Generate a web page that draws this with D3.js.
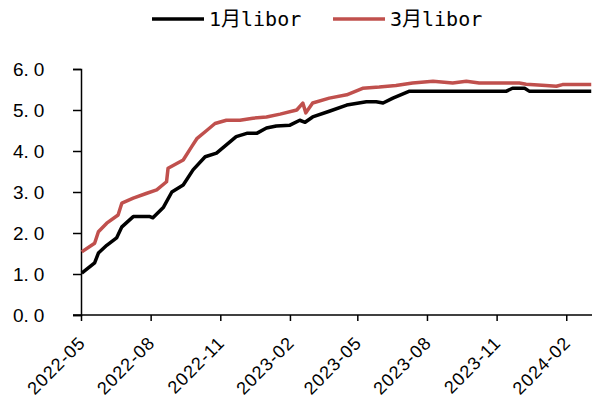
<!DOCTYPE html>
<html>
<head>
<meta charset="utf-8">
<script src="https://cdn.jsdelivr.net/npm/d3@7"></script>
<style>
  body { margin: 0; background: #fff; }
  text { font-family: "Liberation Sans", Arial, "Noto Sans CJK SC", sans-serif; fill: #000; }
  .mono { font-family: "DejaVu Sans Mono", "Noto Sans CJK SC", monospace; }
</style>
</head>
<body>
<div id="chart"></div>
<script>
const seriesNames = ["1月libor", "3月libor"];
const seriesColors = ["#000000", "#C0504D"];

const datesM1 = ["2022-05-02","2022-05-19","2022-05-24","2022-06-04","2022-06-17","2022-06-24","2022-07-09","2022-07-31","2022-08-04","2022-08-18","2022-08-29","2022-09-13","2022-09-26","2022-10-12","2022-10-27","2022-11-09","2022-11-22","2022-12-06","2022-12-19","2023-01-01","2023-01-14","2023-02-01","2023-02-14","2023-02-21","2023-03-03","2023-03-25","2023-04-17","2023-05-13","2023-05-26","2023-06-04","2023-06-17","2023-07-09","2023-11-14","2023-11-22","2023-12-08","2023-12-14","2024-03-05"];
const valuesM1 = [1.02,1.27,1.51,1.70,1.88,2.15,2.40,2.40,2.37,2.63,3.00,3.17,3.54,3.86,3.95,4.15,4.35,4.43,4.43,4.56,4.61,4.63,4.75,4.70,4.83,4.97,5.12,5.20,5.20,5.17,5.29,5.46,5.46,5.53,5.53,5.46,5.46];

const datesM3 = ["2022-05-02","2022-05-19","2022-05-24","2022-06-04","2022-06-19","2022-06-24","2022-07-09","2022-07-27","2022-08-09","2022-08-22","2022-08-24","2022-09-13","2022-09-24","2022-10-01","2022-10-14","2022-10-25","2022-11-09","2022-11-27","2022-12-14","2023-01-01","2023-01-19","2023-02-10","2023-02-18","2023-02-22","2023-03-03","2023-03-25","2023-04-17","2023-05-08","2023-05-30","2023-06-21","2023-07-13","2023-08-09","2023-09-04","2023-09-22","2023-10-09","2023-12-01","2023-12-10","2024-01-05","2024-01-19","2024-01-27","2024-03-05"];
const valuesM3 = [1.54,1.75,2.03,2.24,2.44,2.73,2.85,2.97,3.05,3.25,3.58,3.78,4.10,4.30,4.50,4.67,4.75,4.75,4.80,4.83,4.90,5.00,5.17,4.93,5.17,5.29,5.37,5.53,5.56,5.60,5.66,5.70,5.66,5.70,5.66,5.66,5.63,5.60,5.58,5.62,5.62];

const xTicks = ["2022-05","2022-08","2022-11","2023-02","2023-05","2023-08","2023-11","2024-02"];
const yTicks = [0, 1, 2, 3, 4, 5, 6];

const width = 597, height = 405;
const parse = d3.timeParse("%Y-%m-%d");
const parseM = d3.timeParse("%Y-%m");

const svg = d3.select("#chart").append("svg")
    .attr("width", width).attr("height", height);

const x = d3.scaleTime()
    .domain([parse("2022-05-01"), parse("2024-03-06")])
    .range([81, 592]);
const y = d3.scaleLinear().domain([0, 6]).range([315, 69]);

// y axis
const yAxis = svg.append("g")
    .attr("transform", "translate(81,0)")
    .call(d3.axisLeft(y).tickValues(yTicks).tickSize(8).tickFormat(d3.format(".1f")));
yAxis.select(".domain").attr("stroke", "#000").attr("stroke-width", 1.5);
yAxis.selectAll(".tick line").attr("stroke", "#000").attr("stroke-width", 1.5);
yAxis.selectAll(".tick text")
    .attr("x", -68).attr("text-anchor", "start").attr("font-size", 19)
    .each(function(d) {
      const parts = d3.format(".1f")(d).split(".");
      const t = d3.select(this).text(null);
      t.append("tspan").text(parts[0] + ".");
      t.append("tspan").attr("dx", 5).text(parts[1]);
    });

// x axis
const xAxis = svg.append("g")
    .attr("transform", "translate(0,315)")
    .call(d3.axisBottom(x).tickValues(xTicks.map(parseM)).tickSize(6).tickFormat(d3.timeFormat("%Y-%m")));
xAxis.select(".domain").attr("stroke", "#000").attr("stroke-width", 1.5).attr("d", "M73,0H592");
xAxis.selectAll(".tick line").attr("stroke", "#000").attr("stroke-width", 1.5);
xAxis.selectAll(".tick text")
    .attr("font-size", 18)
    .attr("letter-spacing", 1)
    .attr("text-anchor", "end")
    .attr("y", 0).attr("dy", 0)
    .attr("transform", "translate(5,29) rotate(-45)");

// lines
const series = [
  { dates: datesM1, values: valuesM1 },
  { dates: datesM3, values: valuesM3 }
];
const line = d3.line().x(d => x(d[0])).y(d => y(d[1]));
series.forEach((s, i) => {
  const pts = s.dates.map((d, j) => [parse(d), s.values[j]]);
  svg.append("path")
    .datum(pts)
    .attr("fill", "none")
    .attr("stroke", seriesColors[i])
    .attr("stroke-width", 3.5)
    .attr("stroke-linejoin", "round")
    .attr("d", line);
});

// legend
const legendX = [152, 333];
seriesNames.forEach((name, i) => {
  const g = svg.append("g").attr("transform", `translate(${legendX[i]},19)`);
  g.append("line").attr("x1", 0).attr("x2", 52).attr("y1", 0).attr("y2", 0)
    .attr("stroke", seriesColors[i]).attr("stroke-width", 3.5);
  g.append("text").attr("class", "mono").attr("x", 57).attr("y", 7)
    .attr("font-size", 20).text(name);
});
</script>
</body>
</html>
